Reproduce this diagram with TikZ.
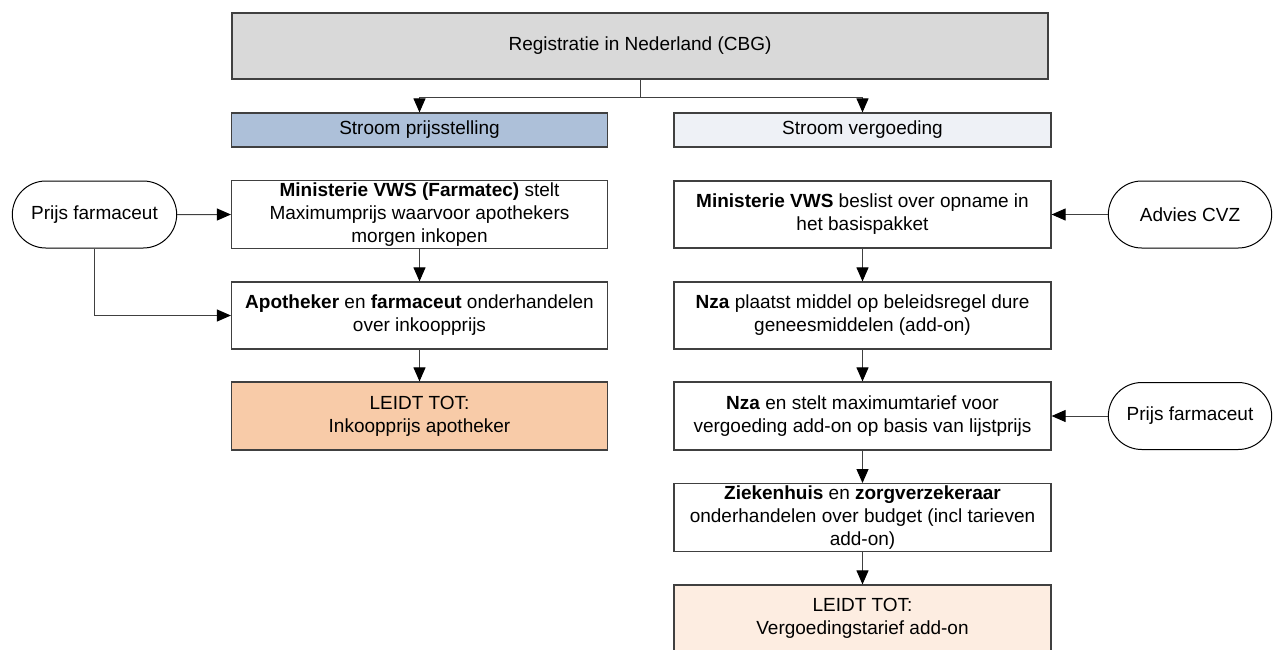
\documentclass[tikz,border=0pt]{standalone}
\usepackage{fontspec}
\setmainfont{Liberation Sans}
\usetikzlibrary{arrows.meta,shapes.misc}

\definecolor{regGray}{RGB}{217,217,217}
\definecolor{prijsBlue}{RGB}{173,192,217}
\definecolor{vergBlue}{RGB}{238,241,246}
\definecolor{leidtDark}{RGB}{248,203,168}
\definecolor{leidtLight}{RGB}{253,237,225}
\definecolor{lineGray}{RGB}{64,64,64}

\begin{document}
\begin{tikzpicture}[x=1pt, y=-1pt,
	font=\fontsize{19}{23}\selectfont,
	box/.style={draw=lineGray, line width=1.2pt, fill=white, align=center,
		minimum width=376pt, minimum height=67pt, inner sep=2pt},
	oval/.style={draw=black, line width=1pt, rounded rectangle, fill=white,
		minimum width=171pt, minimum height=67pt},
	arr/.style={-{Triangle[length=14pt, width=12pt, color=black, fill=black]}, line width=1pt, lineGray}]

\useasboundingbox (0, 0) rectangle (1280, 649);

\node[box, fill=regGray, minimum width=816pt, minimum height=66pt] (reg) at (640, 46) {Registratie in Nederland (CBG)};
\node[box, fill=prijsBlue, minimum height=34pt] (hdrPrijs) at (419.5, 130) {Stroom prijsstelling};
\node[box, fill=vergBlue, minimum height=34pt, minimum width=377pt] (hdrVerg) at (862.5, 130) {Stroom vergoeding};

% stroom prijsstelling
\node[box] (farmatec) at (419.5, 214.5) {\textbf{Ministerie VWS (Farmatec)} stelt\\Maximumprijs waarvoor apothekers\\morgen inkopen};
\node[box] (onderh) at (419.5, 315.5) {\textbf{Apotheker} en \textbf{farmaceut} onderhandelen\\over inkoopprijs};
\node[box, fill=leidtDark, minimum height=68pt] (inkoop) at (419.5, 416) {LEIDT TOT:\\Inkoopprijs apotheker};
\node[oval] (prijsL) at (94.5, 214.5) {Prijs farmaceut};

% stroom vergoeding
\node[box, minimum width=377pt] (vws) at (862.5, 214.5) {\textbf{Ministerie VWS} beslist over opname in\\het basispakket};
\node[box, minimum width=377pt] (nzaAdd) at (862.5, 315.5) {\textbf{Nza} plaatst middel op beleidsregel dure\\geneesmiddelen (add-on)};
\node[box, minimum width=377pt, minimum height=68pt] (nzaMax) at (862.5, 416) {\textbf{Nza} en stelt maximumtarief voor\\vergoeding add-on op basis van lijstprijs};
\node[box, minimum width=377pt] (zkh) at (862.5, 517.5) {\textbf{Ziekenhuis} en \textbf{zorgverzekeraar}\\onderhandelen over budget (incl tarieven\\add-on)};
\node[box, fill=leidtLight, minimum width=377pt] (verg) at (862.5, 618.5) {LEIDT TOT:\\Vergoedingstarief add-on};
\node[oval, minimum width=170pt] (cvz) at (1190, 214.5) {Advies CVZ};
\node[oval, minimum width=170pt] (prijsR) at (1190, 416) {Prijs farmaceut};

\coordinate (split) at (640, 97);
\draw[line width=1pt, lineGray] (reg.south) -- (split);
\draw[arr] (split) -| (hdrPrijs);
\draw[arr] (split) -| (hdrVerg);

\draw[arr] (farmatec) -- (onderh);
\draw[arr] (onderh) -- (inkoop);
\draw[arr] (prijsL) -- (farmatec);
\draw[arr] (prijsL.south) |- (onderh.west);

\foreach \from/\to in {vws/nzaAdd, nzaAdd/nzaMax, nzaMax/zkh, zkh/verg}
	\draw[arr] (\from) -- (\to);
\draw[arr] (cvz) -- (vws);
\draw[arr] (prijsR) -- (nzaMax);

\end{tikzpicture}
\end{document}
